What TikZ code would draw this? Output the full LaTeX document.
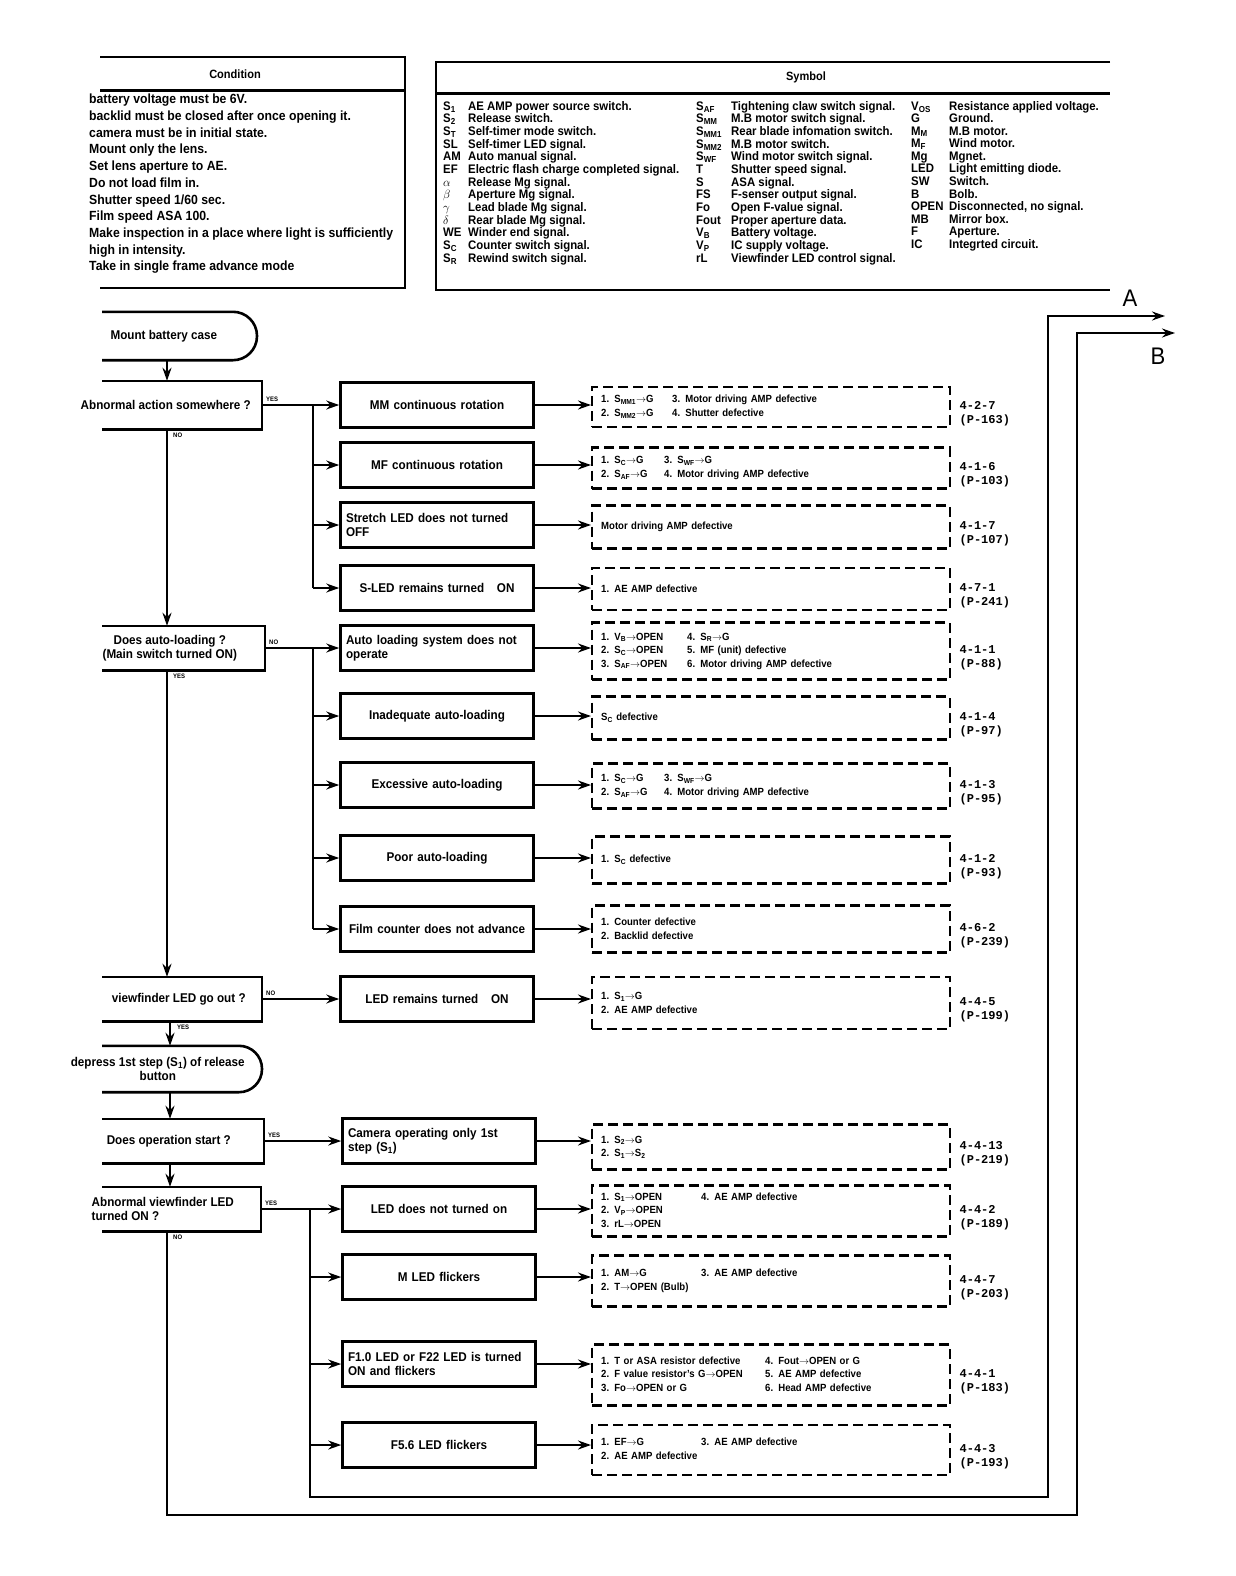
\documentclass[tikz,border=0pt]{standalone}
\usepackage{fontspec}
\setmainfont{Liberation Sans}[FakeStretch=0.92]
\newfontfamily\reffont{Liberation Mono}
\usetikzlibrary{arrows.meta,positioning}

\newcommand{\sbs}[1]{\textsubscript{#1}}
\newcommand{\sigarrow}{\(\rightarrow\)}

\begin{document}
\begin{tikzpicture}[
    x=1pt, y=-1pt,
    >={Stealth[length=13pt,width=9pt]},
    framebox/.style={line width=2.6pt},
    askbox/.style={anchor=east, minimum height=44pt, inner sep=2pt, align=center, font=\fontsize{12.7}{14.5}\selectfont\bfseries},
    procbox/.style={draw, line width=2.6pt, minimum width=193pt, minimum height=45pt, text width=182pt, align=center, inner sep=3pt, font=\fontsize{12.7}{14.5}\selectfont\bfseries},
    causebox/.style={draw, anchor=west, line width=2.4pt, dash pattern=on 10pt off 5pt, minimum width=358pt, text width=340pt, align=left, inner xsep=8pt, inner ysep=5pt, font=\fontsize{10.4}{13.5}\selectfont\bfseries},
    refnum/.style={right=8pt of #1, yshift=-7pt, align=left, inner sep=0pt, font=\fontsize{12}{14}\selectfont\reffont\bfseries},
    flag/.style={font=\fontsize{6.5}{7}\selectfont\bfseries, inner sep=1pt},
    flowline/.style={line width=1.8pt},
    flowarrow/.style={line width=1.8pt, ->},
    symtab/.style={anchor=north west, inner sep=0pt, align=left, font=\fontsize{12.4}{12.3}\selectfont\bfseries},
    handmark/.style={font=\fontsize{24}{24}\selectfont, inner sep=0pt}
]
\fill[white] (0,0) rectangle (1236,1576);
\useasboundingbox (0,0) rectangle (1236,1576);

% condition table
\draw[framebox] (100,57) -- (405,57) -- (405,288) -- (100,288);
\draw[line width=3pt] (100,91) -- (405,91);
\node[font=\fontsize{12}{13}\selectfont\bfseries] (condtitle) at (235,74) {Condition};
\node[anchor=north west, align=left, inner sep=0pt, font=\fontsize{13.3}{16.7}\selectfont\bfseries] (condlist) at (89,94) {%
battery voltage must be 6V.\\
backlid must be closed after once opening it.\\
camera must be in initial state.\\
Mount only the lens.\\
Set lens aperture to AE.\\
Do not load film in.\\
Shutter speed 1/60 sec.\\
Film speed ASA 100.\\
Make inspection in a place where light is sufficiently\\
high in intensity.\\
Take in single frame advance mode};

% symbol table
\draw[framebox] (1110,62) -- (436,62) -- (436,290) -- (1110,290);
\draw[line width=3pt] (436,94) -- (1110,94);
\node[font=\fontsize{12}{13}\selectfont\bfseries] (symtitle) at (806,77) {Symbol};
\node[symtab] (symA) at (443,101) {\begin{tabular}{@{}p{25pt}@{}l@{}}
S\sbs{1} & AE AMP power source switch.\\
S\sbs{2} & Release switch.\\
S\sbs{T} & Self-timer mode switch.\\
SL & Self-timer LED signal.\\
AM & Auto manual signal.\\
EF & Electric flash charge completed signal.\\
$\alpha$ & Release Mg signal.\\
$\beta$ & Aperture Mg signal.\\
$\gamma$ & Lead blade Mg signal.\\
$\delta$ & Rear blade Mg signal.\\
WE & Winder end signal.\\
S\sbs{C} & Counter switch signal.\\
S\sbs{R} & Rewind switch signal.
\end{tabular}};
\node[symtab] (symB) at (696,101) {\begin{tabular}{@{}p{35pt}@{}l@{}}
S\sbs{AF} & Tightening claw switch signal.\\
S\sbs{MM} & M.B motor switch signal.\\
S\sbs{MM1} & Rear blade infomation switch.\\
S\sbs{MM2} & M.B motor switch.\\
S\sbs{WF} & Wind motor switch signal.\\
T & Shutter speed signal.\\
S & ASA signal.\\
FS & F-senser output signal.\\
Fo & Open F-value signal.\\
Fout & Proper aperture data.\\
V\sbs{B} & Battery voltage.\\
V\sbs{P} & IC supply voltage.\\
rL & Viewfinder LED control signal.
\end{tabular}};
\node[symtab] (symC) at (911,101) {\begin{tabular}{@{}p{38pt}@{}l@{}}
V\sbs{OS} & Resistance applied voltage.\\
G & Ground.\\
M\sbs{M} & M.B motor.\\
M\sbs{F} & Wind motor.\\
Mg & Mgnet.\\
LED & Light emitting diode.\\
SW & Switch.\\
B & Bolb.\\
OPEN & Disconnected, no signal.\\
MB & Mirror box.\\
F & Aperture.\\
IC & Integrted circuit.
\end{tabular}};

% left column
\coordinate (cut) at (102,0);
\coordinate (spine) at (167,0);
\coordinate (spinelow) at (170,0);

\node[askbox, minimum width=186pt, minimum height=48pt, anchor=east] (t1) at (257,336) {Mount battery case};
\node[askbox, minimum width=192pt, minimum height=48pt] (q1) at (262,405) {Abnormal action somewhere ?};
\node[askbox, minimum width=190pt] (q2) at (265,648) {Does auto-loading ?\\(Main switch turned ON)};
\node[askbox, minimum width=166pt] (q3) at (262,999) {viewfinder LED go out ?};
\node[askbox, minimum width=208pt, minimum height=46pt] (t2) at (262,1069) {depress 1st step (S\sbs{1}) of release\\button};
\node[askbox, minimum width=190pt] (q4) at (264,1141) {Does operation start ?};
\node[askbox, minimum width=196pt, align=left] (q5) at (261,1209) {Abnormal viewfinder LED\\turned ON ?};

\draw[framebox, rounded corners=24pt] (cut |- t1.north) -- (t1.north east) -- (t1.south east) -- (cut |- t1.south);
\draw[framebox, rounded corners=23pt] (cut |- t2.north) -- (t2.north east) -- (t2.south east) -- (cut |- t2.south);
\foreach \q in {q1,q2,q3,q4,q5}
  \draw[framebox] (cut |- \q.north) -- (\q.north east) -- (\q.south east) -- (cut |- \q.south);

\draw[flowarrow] (spine |- t1.south) -- (spine |- q1.north);
\draw[flowarrow] (spine |- q1.south) -- (spine |- q2.north);
\draw[flowarrow] (spine |- q2.south) -- (spine |- q3.north);
\draw[flowarrow] (spinelow |- q3.south) -- (spinelow |- t2.north);
\draw[flowarrow] (spinelow |- t2.south) -- (spinelow |- q4.north);
\draw[flowarrow] (spinelow |- q4.south) -- (spinelow |- q5.north);

\node[flag, anchor=south west] at ([shift={(3pt,2pt)}]q1.east) {YES};
\node[flag, anchor=north west] at ([shift={(5pt,-3pt)}]spine |- q1.south) {NO};
\node[flag, anchor=south west] at ([shift={(3pt,2pt)}]q2.east) {NO};
\node[flag, anchor=north west] at ([shift={(5pt,-3pt)}]spine |- q2.south) {YES};
\node[flag, anchor=south west] at ([shift={(3pt,2pt)}]q3.east) {NO};
\node[flag, anchor=north west] at ([shift={(6pt,-3pt)}]spinelow |- q3.south) {YES};
\node[flag, anchor=south west] at ([shift={(3pt,2pt)}]q4.east) {YES};
\node[flag, anchor=south west] at ([shift={(3pt,2pt)}]q5.east) {YES};
\node[flag, anchor=north west] at ([shift={(5pt,-3pt)}]spine |- q5.south) {NO};

% symptom boxes
\node[procbox] (m1) at (437,405) {MM continuous rotation};
\node[procbox] (m2) at (437,465) {MF continuous rotation};
\node[procbox, align=left] (m3) at (437,525) {Stretch LED does not turned\\OFF};
\node[procbox] (m4) at (437,588) {S-LED remains turned \ \ ON};
\node[procbox, align=left] (m5) at (437,648) {Auto loading system does not\\operate};
\node[procbox] (m6) at (437,716) {Inadequate auto-loading};
\node[procbox] (m7) at (437,785) {Excessive auto-loading};
\node[procbox] (m8) at (437,858) {Poor auto-loading};
\node[procbox] (m9) at (437,929) {Film counter does not advance};
\node[procbox] (m10) at (437,999) {LED remains turned \ \ ON};
\node[procbox, align=left] (m11) at (439,1141) {Camera operating only 1st\\step (S\sbs{1})};
\node[procbox] (m12) at (439,1209) {LED does not turned on};
\node[procbox] (m13) at (439,1277) {M LED flickers};
\node[procbox, align=left] (m14) at (439,1364) {F1.0 LED or F22 LED is turned\\ON and flickers};
\node[procbox] (m15) at (439,1445) {F5.6 LED flickers};

% cause boxes
\node[causebox, minimum height=40pt] (c1) at (591,407) {\begin{tabular}{@{}p{71pt}@{}l@{}}
1. S\sbs{MM1}\sigarrow G & 3. Motor driving AMP defective\\
2. S\sbs{MM2}\sigarrow G & 4. Shutter defective
\end{tabular}};
\node[causebox, minimum height=41pt] (c2) at (591,468) {\begin{tabular}{@{}p{63pt}@{}l@{}}
1. S\sbs{C}\sigarrow G & 3. S\sbs{WF}\sigarrow G\\
2. S\sbs{AF}\sigarrow G & 4. Motor driving AMP defective
\end{tabular}};
\node[causebox, minimum height=43pt] (c3) at (591,527) {Motor driving AMP defective};
\node[causebox, minimum height=42pt] (c4) at (591,589) {1. AE AMP defective};
\node[causebox, minimum height=57pt] (c5) at (591,651) {\begin{tabular}{@{}p{86pt}@{}l@{}}
1. V\sbs{B}\sigarrow OPEN & 4. S\sbs{R}\sigarrow G\\
2. S\sbs{C}\sigarrow OPEN & 5. MF (unit) defective\\
3. S\sbs{AF}\sigarrow OPEN & 6. Motor driving AMP defective
\end{tabular}};
\node[causebox, minimum height=43pt] (c6) at (591,718) {S\sbs{C} defective};
\node[causebox, minimum height=45pt] (c7) at (591,786) {\begin{tabular}{@{}p{63pt}@{}l@{}}
1. S\sbs{C}\sigarrow G & 3. S\sbs{WF}\sigarrow G\\
2. S\sbs{AF}\sigarrow G & 4. Motor driving AMP defective
\end{tabular}};
\node[causebox, minimum height=47pt] (c8) at (591,860) {1. S\sbs{C} defective};
\node[causebox, minimum height=47pt] (c9) at (591,929) {1. Counter defective\\2. Backlid defective};
\node[causebox, minimum height=52pt] (c10) at (591,1003) {1. S\sbs{1}\sigarrow G\\2. AE AMP defective};
\node[causebox, minimum height=45pt] (c11) at (591,1147) {1. S\sbs{2}\sigarrow G\\2. S\sbs{1}\sigarrow S\sbs{2}};
\node[causebox, minimum height=51pt] (c12) at (591,1211) {\begin{tabular}{@{}p{100pt}@{}l@{}}
1. S\sbs{1}\sigarrow OPEN & 4. AE AMP defective\\
2. V\sbs{P}\sigarrow OPEN & \\
3. rL\sigarrow OPEN &
\end{tabular}};
\node[causebox, minimum height=51pt] (c13) at (591,1281) {\begin{tabular}{@{}p{100pt}@{}l@{}}
1. AM\sigarrow G & 3. AE AMP defective\\
2. T\sigarrow OPEN (Bulb) &
\end{tabular}};
\node[causebox, minimum height=61pt] (c14) at (591,1375) {\begin{tabular}{@{}p{164pt}@{}l@{}}
1. T or ASA resistor defective & 4. Fout\sigarrow OPEN or G\\
2. F value resistor's G\sigarrow OPEN & 5. AE AMP defective\\
3. Fo\sigarrow OPEN or G & 6. Head AMP defective
\end{tabular}};
\node[causebox, minimum height=50pt] (c15) at (591,1450) {\begin{tabular}{@{}p{100pt}@{}l@{}}
1. EF\sigarrow G & 3. AE AMP defective\\
2. AE AMP defective &
\end{tabular}};

% page references
\node[refnum=c1] (r1) {4-2-7\\(P-163)};
\node[refnum=c2] (r2) {4-1-6\\(P-103)};
\node[refnum=c3] (r3) {4-1-7\\(P-107)};
\node[refnum=c4] (r4) {4-7-1\\(P-241)};
\node[refnum=c5] (r5) {4-1-1\\(P-88)};
\node[refnum=c6] (r6) {4-1-4\\(P-97)};
\node[refnum=c7] (r7) {4-1-3\\(P-95)};
\node[refnum=c8] (r8) {4-1-2\\(P-93)};
\node[refnum=c9] (r9) {4-6-2\\(P-239)};
\node[refnum=c10] (r10) {4-4-5\\(P-199)};
\node[refnum=c11] (r11) {4-4-13\\(P-219)};
\node[refnum=c12] (r12) {4-4-2\\(P-189)};
\node[refnum=c13] (r13) {4-4-7\\(P-203)};
\node[refnum=c14] (r14) {4-4-1\\(P-183)};
\node[refnum=c15] (r15) {4-4-3\\(P-193)};

% branches
\coordinate (b1) at (313,405);
\coordinate (b2) at (313,648);
\coordinate (b3) at (310,1209);
\draw[flowarrow] (q1.east) -- (m1.west);
\draw[flowarrow] (q2.east) -- (m5.west);
\draw[flowarrow] (q3.east) -- (m10.west);
\draw[flowarrow] (q4.east) -- (m11.west);
\draw[flowarrow] (q5.east) -- (m12.west);
\draw[flowline] (b1) -- (b1 |- m4.west);
\draw[flowline] (b2) -- (b2 |- m9.west);
\foreach \n in {m2,m3,m4}
  \draw[flowarrow] (b1 |- \n.west) -- (\n.west);
\foreach \n in {m6,m7,m8,m9}
  \draw[flowarrow] (b2 |- \n.west) -- (\n.west);
\foreach \n in {m13,m14,m15}
  \draw[flowarrow] (b3 |- \n.west) -- (\n.west);
\foreach \n/\c in {m1/c1,m2/c2,m3/c3,m4/c4,m5/c5,m6/c6,m7/c7,m8/c8,m9/c9,m10/c10,m11/c11,m12/c12,m13/c13,m14/c14,m15/c15}
  \draw[flowarrow] (\n.east) -- (\n.east -| \c.west);

% return loops
\coordinate (cornA) at (1048,1497);
\coordinate (toA) at (1165,316);
\coordinate (cornB) at (1077,1515);
\coordinate (toB) at (1175,333);
\draw[flowarrow] (b3) |- (cornA) |- (toA);
\draw[flowarrow] (spine |- q5.south) |- (cornB) |- (toB);
\node[handmark] (markA) at (1130,298) {A};
\node[handmark] (markB) at (1158,356) {B};
\end{tikzpicture}
\end{document}
